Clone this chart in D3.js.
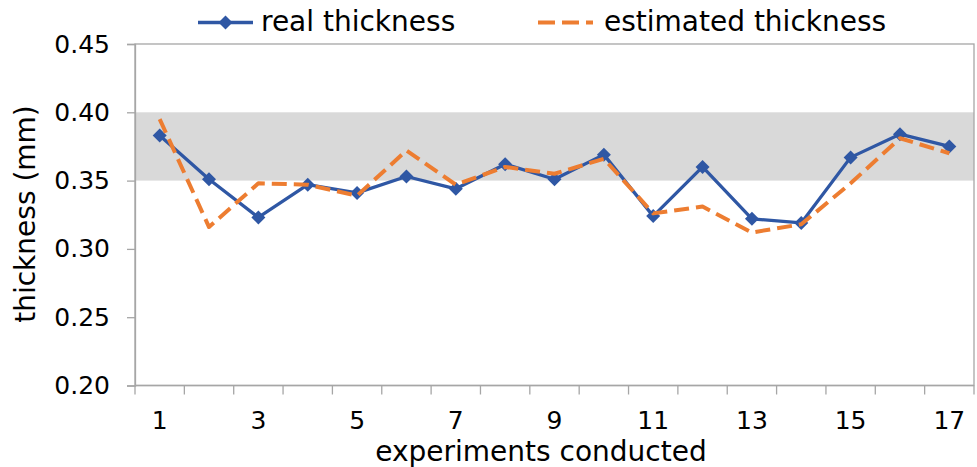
<!DOCTYPE html>
<html><head><meta charset="utf-8">
<script src="https://cdn.jsdelivr.net/npm/d3@7/dist/d3.min.js"></script>
<style>body{margin:0;background:#fff}svg{display:block;font-family:"DejaVu Sans",sans-serif}</style>
</head><body>
<script>
const categories = [1,2,3,4,5,6,7,8,9,10,11,12,13,14,15,16,17];
const realThickness = [0.383,0.351,0.323,0.347,0.341,0.353,0.344,0.362,0.351,0.369,0.324,0.360,0.322,0.319,0.367,0.384,0.375];
const estimatedThickness = [0.395,0.316,0.348,0.347,0.339,0.372,0.347,0.360,0.355,0.366,0.326,0.331,0.312,0.318,0.348,0.381,0.370];
const yTicks = [0.20,0.25,0.30,0.35,0.40,0.45];
const xTickLabels = [1,3,5,7,9,11,13,15,17];
const bandRange = [0.35,0.40];
const seriesNames = ["real thickness","estimated thickness"];

const W=977,H=467;
const m={l:135,r:974,t:44,b:385.5};
const svg=d3.select("body").append("svg").attr("width",W).attr("height",H);
const x=d3.scaleBand().domain(categories).range([m.l,m.r]);
const y=d3.scaleLinear().domain([0.20,0.45]).range([m.b,m.t]);
const axisCol="#a6a6a6";
const blue="#2f57a4", orange="#ed7d31";

// band
svg.append("rect").attr("x",m.l).attr("width",m.r-m.l)
  .attr("y",y(bandRange[1])).attr("height",y(bandRange[0])-y(bandRange[1]))
  .attr("fill","#d9d9d9");

// frame
svg.append("rect").attr("x",m.l).attr("y",m.t).attr("width",m.r-m.l).attr("height",m.b-m.t)
  .attr("fill","none").attr("stroke",axisCol).attr("stroke-width",1.3);

// y axis
const ya=svg.append("g").attr("transform",`translate(${m.l},0)`)
  .call(d3.axisLeft(y).tickValues(yTicks).tickFormat(d3.format(".2f")).tickSize(8).tickPadding(17));
ya.select(".domain").attr("stroke",axisCol).attr("stroke-width",1.3);
ya.selectAll(".tick line").attr("stroke",axisCol).attr("stroke-width",1.3);
ya.selectAll("text").attr("font-size",25).attr("fill","#000").attr("font-family","DejaVu Sans");

// x axis: ticks at category boundaries
const xa=svg.append("g").attr("transform",`translate(0,${m.b})`);
xa.append("line").attr("x1",m.l).attr("x2",m.r).attr("stroke",axisCol).attr("stroke-width",1.3);
const bounds=categories.map(c=>x(c)).concat([x(categories[categories.length-1])+x.bandwidth()]);
xa.selectAll("line.tk").data(bounds).join("line").attr("class","tk")
  .attr("x1",d=>d).attr("x2",d=>d).attr("y1",0).attr("y2",9).attr("stroke",axisCol).attr("stroke-width",1.3);
xa.selectAll("text").data(xTickLabels).join("text")
  .attr("x",d=>x(d)+x.bandwidth()/2).attr("y",43).attr("text-anchor","middle")
  .attr("font-size",25).text(d=>d);

// axis titles
svg.append("text").attr("x",541).attr("y",461).attr("text-anchor","middle")
  .attr("font-size",28).text("experiments conducted");
svg.append("text").attr("transform","translate(35,214) rotate(-90)").attr("text-anchor","middle")
  .attr("font-size",28).text("thickness (mm)");

const cx=d=>x(d)+x.bandwidth()/2;
const line=d3.line().x((d,i)=>cx(categories[i])).y(d=>y(d));
const diamondPath="M0,-7L7,0L0,7L-7,0Z";

// real
svg.append("path").datum(realThickness).attr("d",line).attr("fill","none")
  .attr("stroke",blue).attr("stroke-width",3.3).attr("stroke-linejoin","round");
svg.selectAll("path.mk").data(realThickness).join("path").attr("class","mk")
  .attr("d",diamondPath).attr("transform",(d,i)=>`translate(${cx(categories[i])},${y(d)})`)
  .attr("fill",blue);

// estimated
svg.append("path").datum(estimatedThickness).attr("d",line).attr("fill","none")
  .attr("stroke",orange).attr("stroke-width",4).attr("stroke-dasharray","15,7").attr("stroke-linejoin","round");

// legend
const lg=svg.append("g");
lg.append("line").attr("x1",198).attr("x2",253).attr("y1",22.5).attr("y2",22.5).attr("stroke",blue).attr("stroke-width",3.3);
lg.append("path").attr("d",diamondPath).attr("transform","translate(225.5,22.5)").attr("fill",blue);
lg.append("text").attr("x",261).attr("y",31).attr("font-size",28).text(seriesNames[0]);
lg.append("line").attr("x1",538).attr("x2",593).attr("y1",22.5).attr("y2",22.5).attr("stroke",orange).attr("stroke-width",4).attr("stroke-dasharray","17,7");
lg.append("text").attr("x",604).attr("y",31).attr("font-size",28).text(seriesNames[1]);
</script>
</body></html>
